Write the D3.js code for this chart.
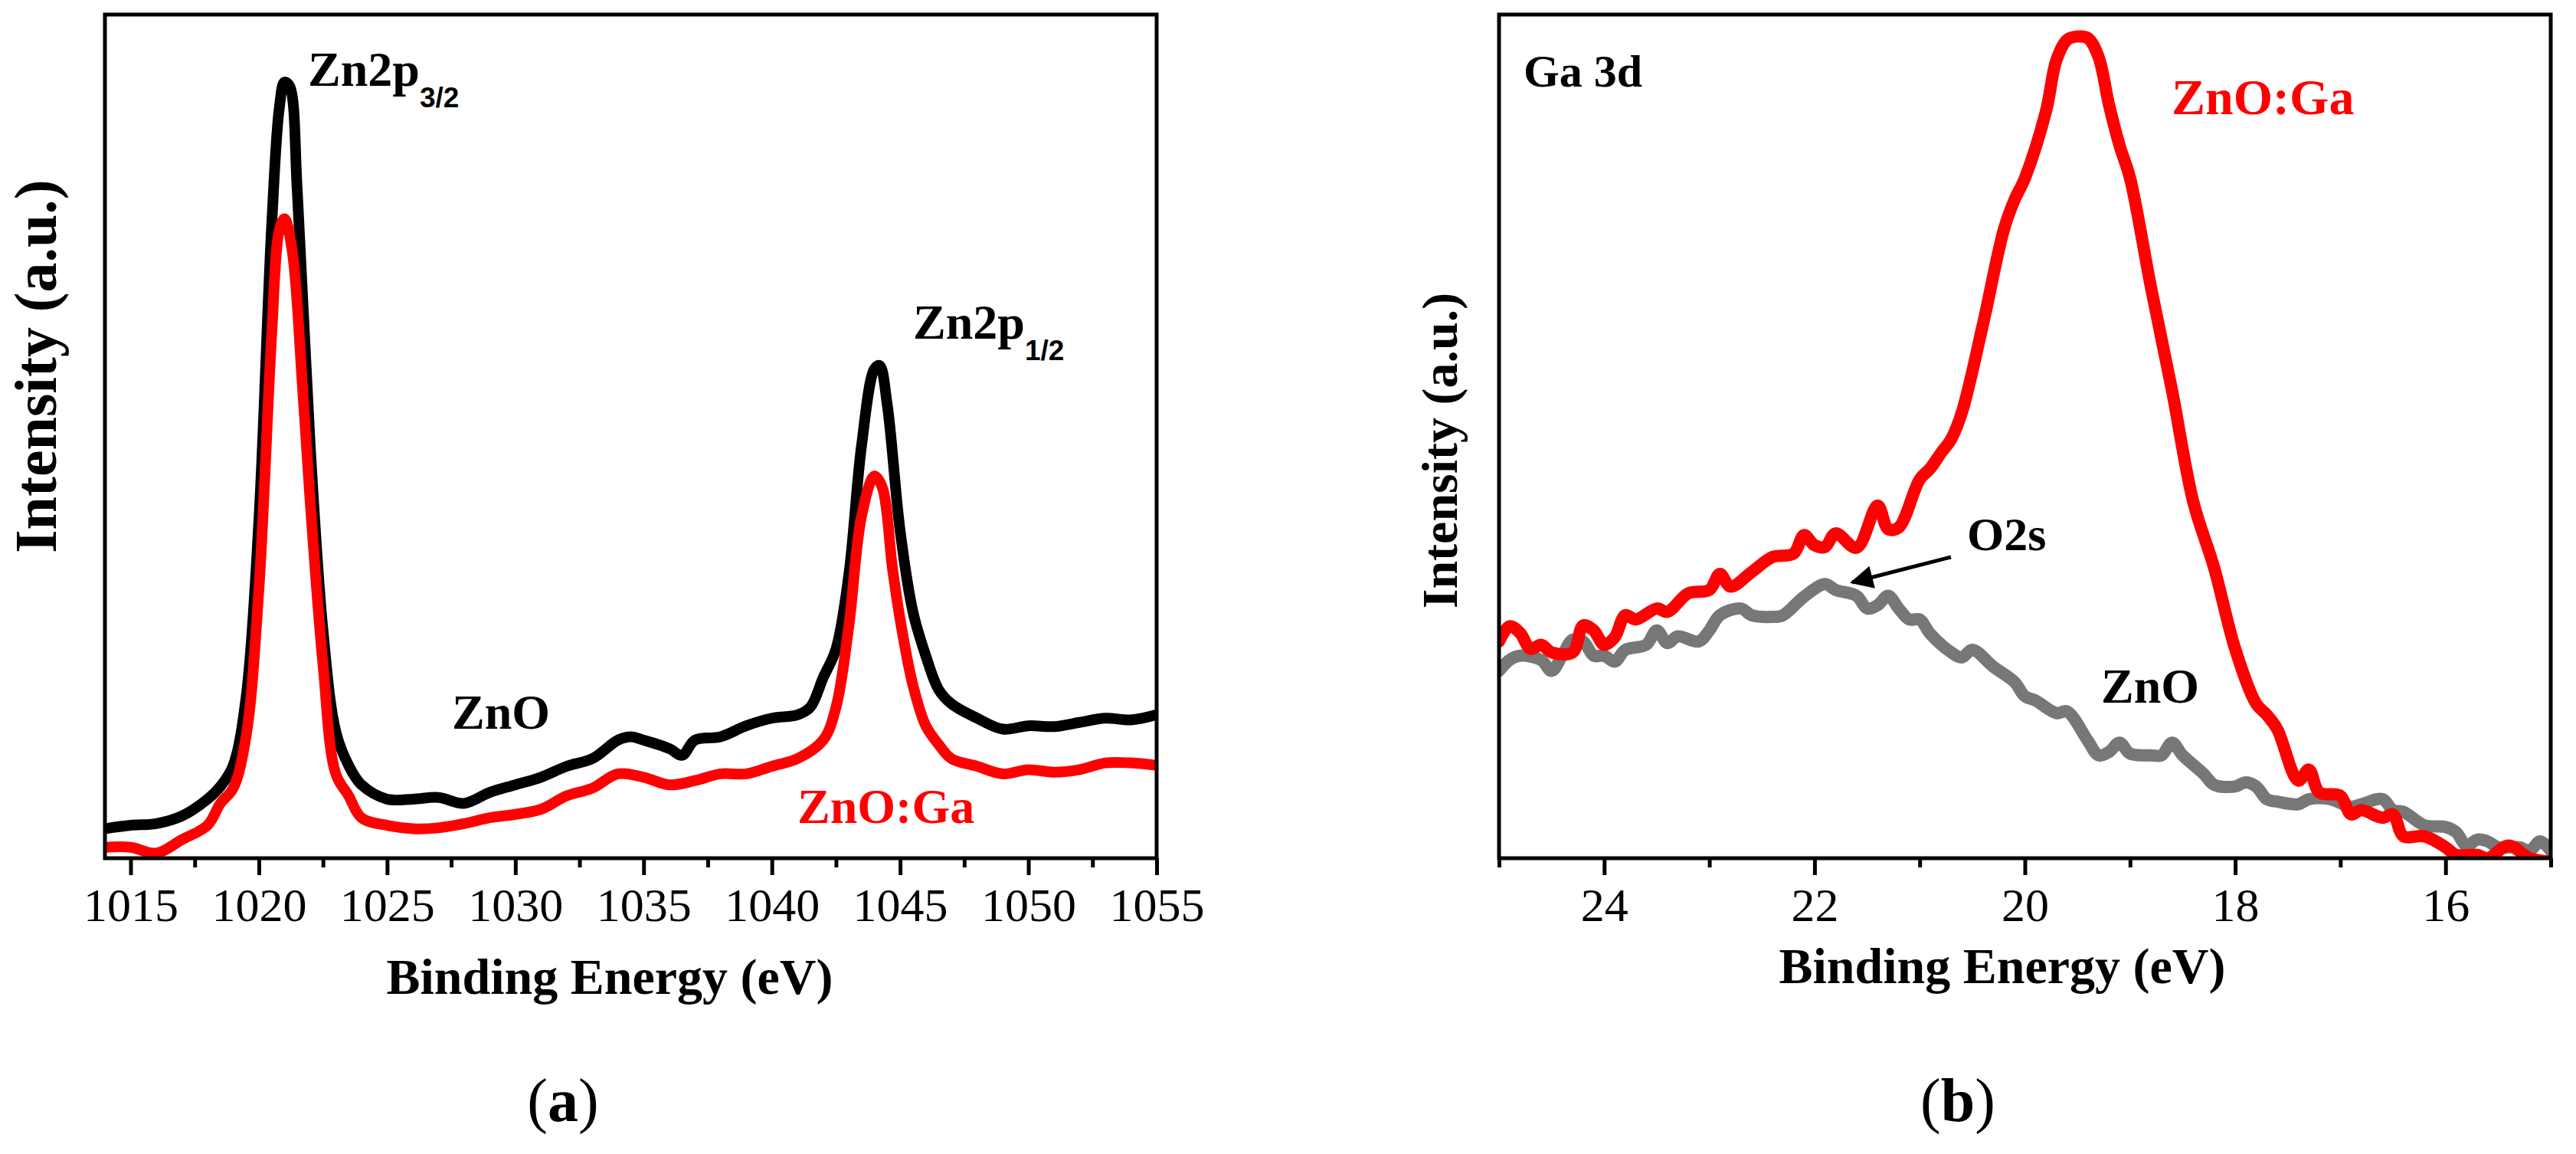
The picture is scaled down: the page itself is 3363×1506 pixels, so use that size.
<!DOCTYPE html>
<html>
<head>
<meta charset="utf-8">
<script src="https://cdn.jsdelivr.net/npm/d3@7"></script>
<style>
  body { margin: 0; background: #fff; }
  svg { display: block; }
  text { font-family: "Liberation Serif", "Times New Roman", serif; }
</style>
</head>
<body>
<svg id="chart" width="3363" height="1506"></svg>
<script>
// ---- data (intensity in % of frame height) ----
var zn2pEnergy = [1014, 1015, 1016, 1017, 1018, 1018.5, 1019, 1019.5, 1020, 1020.5, 1020.8, 1021, 1021.2,
  1021.5, 1022, 1022.5, 1023, 1023.5, 1024, 1025, 1026, 1027, 1028, 1029, 1030, 1031, 1032, 1033, 1034,
  1034.5, 1035, 1036, 1036.5, 1037, 1038, 1039, 1040, 1041, 1041.5, 1042, 1042.5, 1043, 1043.5, 1044,
  1044.2, 1044.5, 1045, 1045.5, 1046, 1046.5, 1047, 1048, 1049, 1050, 1051, 1052, 1053, 1054, 1055];
var zn2pZnO = [3.5, 3.9, 4.1, 5, 7, 8.5, 11, 19, 40, 75, 89, 92, 91.5,
  79, 49, 27, 15, 11, 8.7, 7, 7, 7.2, 6.5, 7.8, 8.7, 9.6, 10.9, 11.8, 14,
  14.4, 14, 13, 12.2, 14, 14.4, 15.7, 16.6, 17, 17.9, 21.4, 24.8, 33.6, 49, 58,
  58.4, 53.7, 38.8, 29.2, 24, 20, 18.3, 16.6, 15.3, 15.7, 15.6, 16.1, 16.6, 16.4, 17];

var zn2pGaEnergy = [1014, 1015, 1016, 1017, 1018, 1018.5, 1019, 1019.5, 1020, 1020.5, 1020.8, 1021, 1021.3,
  1021.7, 1022, 1022.5, 1023, 1023.5, 1024, 1025, 1026, 1027, 1028, 1029, 1030, 1031, 1032, 1033, 1034,
  1035, 1036, 1037, 1038, 1039, 1040, 1041, 1042, 1042.5, 1043, 1043.5, 1044, 1044.3, 1044.7, 1045,
  1045.5, 1046, 1046.5, 1047, 1048, 1049, 1050, 1051, 1052, 1053, 1054, 1055];
var zn2pZnOGa = [1.3, 1.3, 0.6, 2.2, 3.9, 6.5, 8.3, 14.4, 31.8, 62, 74.5, 75.8, 72,
  56, 42.3, 23, 10, 7.4, 4.8, 3.9, 3.5, 3.6, 4.1, 4.8, 5.2, 5.8, 7.4, 8.3, 10,
  9.6, 8.7, 9.2, 10, 10, 10.9, 11.8, 14, 17.9, 27.5, 40.6, 45.3, 44, 34.4, 28.3,
  20.5, 15.7, 13.5, 11.8, 10.9, 10, 10.5, 10.2, 10.5, 11.3, 11.3, 11];

var ga3dGaEnergy = [25, 24.9, 24.8, 24.7, 24.6, 24.5, 24.3, 24.2, 24.1, 24, 23.9, 23.8, 23.7, 23.5, 23.4,
  23.2, 23, 22.9, 22.8, 22.6, 22.4, 22.2, 22.1, 22, 21.9, 21.8, 21.6, 21.4, 21.3, 21.2, 21, 20.9, 20.8,
  20.7, 20.6, 20.4, 20.2, 20.1, 20, 19.8, 19.7, 19.6, 19.5, 19.4, 19.3, 19.2, 19.1, 19, 18.8, 18.6, 18.4,
  18.2, 18, 17.8, 17.7, 17.6, 17.4, 17.3, 17.2, 17, 16.9, 16.8, 16.6, 16.5, 16.4, 16.2, 16, 15.9, 15.7,
  15.6, 15.4, 15.2, 15];
var ga3dZnOGa = [25.7, 27.5, 26.7, 24.8, 25.3, 24.4, 24.4, 27.6, 27, 25.3, 26.2, 28.8, 28.3, 29.6, 29.2,
  31.4, 31.8, 33.7, 32.2, 33.9, 35.7, 36.1, 38.3, 37.1, 36.9, 38.5, 36.8, 41.8, 39, 39.2, 44.9, 46.2, 48,
  49.7, 52.8, 63.2, 74.5, 78, 80.6, 88.5, 94.6, 97, 97.4, 97.2, 95, 89.3, 84.5, 80.6, 67.6, 55.4, 42.3,
  34.4, 24.8, 18.3, 17, 15.3, 9.2, 10.5, 7.8, 7.4, 5.2, 5.7, 4.8, 5.2, 2.6, 2.6, 1.3, 0.4, 0.4,
  0, 1.5, 0, -0.4];

var ga3dZnOEnergy = [25, 24.9, 24.8, 24.6, 24.5, 24.4, 24.3, 24.2, 24.1, 24, 23.9, 23.8, 23.6, 23.5, 23.4,
  23.3, 23.1, 23, 22.9, 22.7, 22.6, 22.4, 22.3, 22.1, 21.9, 21.8, 21.6, 21.5, 21.4, 21.3, 21.2, 21.1, 21,
  20.9, 20.7, 20.6, 20.5, 20.3, 20.1, 20, 19.9, 19.7, 19.6, 19.4, 19.3, 19.2, 19.1, 19, 18.8, 18.7, 18.6,
  18.5, 18.3, 18.2, 18, 17.9, 17.8, 17.7, 17.6, 17.4, 17.3, 17.1, 16.9, 16.8, 16.6, 16.5, 16.4, 16.2, 16,
  15.9, 15.8, 15.7, 15.6, 15.5, 15.3, 15.2, 15.1, 15];
var ga3dZnO = [22.2, 23.5, 24, 23.5, 22.2, 24, 25.9, 25.7, 24, 24, 23.3, 24.7, 25.3, 27, 25.5,
  26.3, 25.7, 27, 28.8, 29.6, 28.8, 28.6, 28.8, 31, 32.5, 31.8, 31.1, 29.6, 30, 31.1, 29.6, 28.3, 28.3,
  26.6, 24.4, 23.8, 24.7, 22.7, 20.9, 19.2, 18.7, 17.2, 17.4, 13.9, 12.2, 12.6, 13.7, 12.4, 12.2, 12.2, 13.7,
  12.2, 10, 8.7, 8.5, 9, 8.5, 7, 6.7, 6.4, 7, 7, 6.1, 6.4, 7, 5.7, 5.5, 3.9, 3.7,
  3.1, 1.5, 2.2, 2, 1.3, 1.3, 0.9, 2, 0.9];

var zn2pMajorTicks = [1015, 1020, 1025, 1030, 1035, 1040, 1045, 1050, 1055];
var zn2pMinorTicks = [1017.5, 1022.5, 1027.5, 1032.5, 1037.5, 1042.5, 1047.5, 1052.5];
var ga3dMajorTicks = [24, 22, 20, 18, 16];
var ga3dMinorTicks = [25, 23, 21, 19, 17, 15];

// ---- layout ----
var svg = d3.select('#chart');
var frameTop = 19, frameBottom = 1120;

var panels = [
  {
    id: 'a', left: 137, right: 1510, domain: [1014, 1055],
    major: zn2pMajorTicks, minor: zn2pMinorTicks, lineWidth: 14,
    series: [
      { x: zn2pEnergy, y: zn2pZnO, color: '#000000' },
      { x: zn2pGaEnergy, y: zn2pZnOGa, color: '#ff0000' }
    ],
    ylabel: { x: 73, y: 478, size: 78 },
    xlabel: { x: 796, y: 1297, size: 66 },
    caption: { x: 735 }
  },
  {
    id: 'b', left: 1957, right: 3330, domain: [25, 15],
    major: ga3dMajorTicks, minor: ga3dMinorTicks, lineWidth: 16,
    series: [
      { x: ga3dZnOEnergy, y: ga3dZnO, color: '#777777' },
      { x: ga3dGaEnergy, y: ga3dZnOGa, color: '#ff0000' }
    ],
    ylabel: { x: 1902, y: 588, size: 66 },
    xlabel: { x: 2614, y: 1283, size: 66 },
    caption: { x: 2556 }
  }
];

svg.append('defs').append('marker')
  .attr('id', 'arrow')
  .attr('viewBox', '0 0 10 10')
  .attr('refX', 9).attr('refY', 5)
  .attr('markerWidth', 7).attr('markerHeight', 6)
  .attr('markerUnits', 'strokeWidth')
  .attr('orient', 'auto')
  .append('path')
  .attr('d', 'M0,0L10,5L0,10z')
  .attr('fill', '#000');

var scales = {};

panels.forEach(function(p) {
  var x = d3.scaleLinear().domain(p.domain).range([p.left, p.right]);
  var y = d3.scaleLinear().domain([0, 100]).range([frameBottom, frameTop]);
  scales[p.id] = { x: x, y: y };

  var g = svg.append('g').attr('class', 'panel-' + p.id);

  g.append('clipPath').attr('id', 'clip-' + p.id)
    .append('rect')
    .attr('x', p.left).attr('y', frameTop)
    .attr('width', p.right - p.left).attr('height', frameBottom - frameTop);

  var line = d3.line()
    .x(function(d) { return x(d[0]); })
    .y(function(d) { return y(d[1]); })
    .curve(d3.curveCatmullRom.alpha(0.5));

  p.series.forEach(function(s) {
    var pts = s.x.map(function(v, i) { return [v, s.y[i]]; });
    g.append('path')
      .datum(pts)
      .attr('clip-path', 'url(#clip-' + p.id + ')')
      .attr('fill', 'none')
      .attr('stroke', s.color)
      .attr('stroke-width', p.lineWidth)
      .attr('stroke-linejoin', 'round')
      .attr('stroke-linecap', 'round')
      .attr('d', line);
  });

  // minor ticks
  g.append('g')
    .attr('transform', 'translate(0,' + frameBottom + ')')
    .call(d3.axisBottom(x).tickValues(p.minor).tickSize(12).tickFormat(''))
    .call(function(a) {
      a.select('.domain').remove();
      a.selectAll('line').attr('stroke', '#000').attr('stroke-width', 5);
    });

  // major ticks with labels
  g.append('g')
    .attr('transform', 'translate(0,' + frameBottom + ')')
    .call(d3.axisBottom(x).tickValues(p.major).tickSize(22).tickFormat(d3.format('d')))
    .call(function(a) {
      a.select('.domain').remove();
      a.selectAll('line').attr('stroke', '#000').attr('stroke-width', 5);
      a.selectAll('text')
        .attr('y', 82).attr('dy', 0)
        .attr('fill', '#000')
        .style('font-family', '"Liberation Serif", "Times New Roman", serif')
        .style('font-size', '62px');
    });

  g.append('rect')
    .attr('x', p.left).attr('y', frameTop)
    .attr('width', p.right - p.left).attr('height', frameBottom - frameTop)
    .attr('fill', 'none').attr('stroke', '#000').attr('stroke-width', 5);

  g.append('text')
    .attr('transform', 'translate(' + p.ylabel.x + ',' + p.ylabel.y + ') rotate(-90)')
    .attr('text-anchor', 'middle')
    .style('font-size', p.ylabel.size + 'px')
    .style('font-weight', 'bold')
    .text('Intensity (a.u.)');

  g.append('text')
    .attr('x', p.xlabel.x).attr('y', p.xlabel.y)
    .attr('text-anchor', 'middle')
    .style('font-size', p.xlabel.size + 'px')
    .style('font-weight', 'bold')
    .text('Binding Energy (eV)');

  var cap = g.append('text')
    .attr('x', p.caption.x).attr('y', 1463)
    .attr('text-anchor', 'middle')
    .style('font-size', '80px');
  cap.append('tspan').text('(');
  cap.append('tspan').style('font-weight', 'bold').text(p.id);
  cap.append('tspan').text(')');
});

// ---- annotations ----
function label(x, y, size, color, txt) {
  return svg.append('text')
    .attr('x', x).attr('y', y)
    .attr('fill', color)
    .style('font-size', size + 'px')
    .style('font-weight', 'bold')
    .text(txt);
}

function peakLabel(x, y, sub) {
  var t = svg.append('text')
    .attr('x', x).attr('y', y)
    .style('font-size', '64px')
    .style('font-weight', 'bold');
  t.append('tspan').text('Zn2p');
  t.append('tspan')
    .attr('dy', 28)
    .style('font-size', '37px')
    .style('font-family', '"Liberation Sans Narrow", "Arial Narrow", "Liberation Sans", sans-serif')
    .text(sub);
}

peakLabel(402, 112, '3/2');
peakLabel(1192, 442, '1/2');
label(590, 951, 64, '#000', 'ZnO');
label(1041, 1074, 64, '#ff0000', 'ZnO:Ga');

label(1989, 113, 60, '#000', 'Ga 3d');
label(2835, 149, 66, '#ff0000', 'ZnO:Ga');
label(2743, 917, 64, '#000', 'ZnO');
label(2568, 718, 62, '#000', 'O2s');

svg.append('line')
  .attr('x1', 2547).attr('y1', 727)
  .attr('x2', 2418).attr('y2', 760)
  .attr('stroke', '#000').attr('stroke-width', 5)
  .attr('marker-end', 'url(#arrow)');
</script>
</body>
</html>
